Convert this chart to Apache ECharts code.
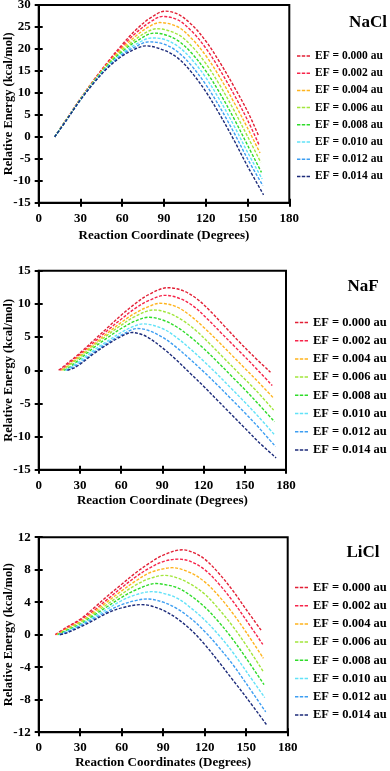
<!DOCTYPE html>
<html>
<head>
<meta charset="utf-8">
<script src="https://cdn.jsdelivr.net/npm/echarts@6/dist/echarts.min.js"></script>
<style>
html, body { margin: 0; padding: 0; background: #fff; }
#chart { width: 390px; height: 771px; }
</style>
</head>
<body>
<div id="chart"></div>
<script>
// legend names / colours (0.000 au -> 0.014 au)
var efNames = ['EF = 0.000 au', 'EF = 0.002 au', 'EF = 0.004 au', 'EF = 0.006 au',
	'EF = 0.008 au', 'EF = 0.010 au', 'EF = 0.012 au', 'EF = 0.014 au']
var efColors = ['#E21F35', '#F7254A', '#FFB41E', '#A2E63C', '#2FDC2A', '#62E2F8', '#3D9EF2', '#1C2B7A']

// axis ranges [min, max, step]
var xRange = [0, 180, 30]
var naclRange = [-15, 30, 5]
var nafRange = [-15, 15, 5]
var liclRange = [-12, 12, 4]

// NaCl: [degrees, kcal/mol]
var naclCurves = [
	[[11.5,0],[20,4.0],[30,8.7],[40,13.1],[50,17.2],[60,21.0],[70,24.4],[80,27.0],[91,28.6],[100,27.9],[110,25.5],[120,21.8],[130,17.0],[140,11.6],[150,5.8],[158,0.2]],
	[[11.5,0],[20,4.0],[30,8.7],[40,13.0],[50,17.0],[60,20.6],[70,23.7],[80,26.1],[89,27.4],[100,26.6],[110,24.0],[120,20.2],[130,15.3],[140,9.8],[150,3.8],[158.5,-2.0]],
	[[11.5,0],[20,4.0],[30,8.6],[40,12.9],[50,16.8],[60,20.2],[70,23.0],[80,25.2],[87,26.0],[100,25.0],[110,22.3],[120,18.5],[130,13.6],[140,8.0],[150,2.0],[159,-3.7]],
	[[11.5,0],[20,3.9],[30,8.6],[40,12.8],[50,16.6],[60,19.8],[70,22.3],[78,23.9],[85,24.6],[100,23.3],[110,20.6],[120,16.7],[130,11.8],[140,6.2],[150,0.1],[159.5,-5.8]],
	[[11.5,0],[20,3.9],[30,8.5],[40,12.7],[50,16.4],[60,19.4],[70,21.7],[83,23.6],[90,23.3],[100,21.9],[110,19.0],[120,15.0],[130,10.0],[140,4.3],[150,-1.9],[160,-8.1]],
	[[11.5,0],[20,3.9],[30,8.5],[40,12.6],[50,16.2],[60,19.0],[70,21.1],[81,22.5],[90,22.2],[100,20.6],[110,17.6],[120,13.5],[130,8.4],[140,2.7],[150,-3.5],[160.5,-9.6]],
	[[11.5,0],[20,3.8],[30,8.4],[40,12.5],[50,16.0],[60,18.7],[70,20.6],[79,21.6],[90,21.1],[100,19.3],[110,16.1],[120,11.9],[130,6.8],[140,1.1],[150,-5.0],[161,-11.1]],
	[[11.5,0],[20,3.8],[30,8.4],[40,12.4],[50,15.8],[60,18.4],[70,20.1],[77,20.7],[90,19.7],[100,17.9],[110,14.6],[120,10.3],[130,5.1],[140,-0.6],[150,-6.7],[161.5,-13.2]]
]

// NaF
var nafCurves = [
	[[14.5,0],[20,0.9],[30,2.6],[40,4.5],[50,6.4],[60,8.3],[70,10.0],[80,11.4],[94,12.45],[105,12.0],[115,10.8],[125,8.9],[135,6.7],[145,4.5],[155,2.4],[168.7,-0.3]],
	[[15.5,0],[20,0.7],[30,2.4],[40,4.2],[50,6.0],[60,7.7],[70,9.3],[80,10.5],[92,11.3],[103,10.8],[113,9.6],[123,7.7],[133,5.6],[143,3.5],[155,1.0],[170,-2.3]],
	[[16.5,0],[20,0.5],[30,2.2],[40,3.9],[50,5.6],[60,7.2],[70,8.6],[80,9.6],[88,10.1],[100,9.6],[110,8.3],[120,6.5],[130,4.5],[140,2.4],[150,0.3],[160,-1.8],[171,-4.2]],
	[[17.5,0],[20,0.4],[30,2.0],[40,3.7],[50,5.3],[60,6.8],[70,8.1],[84,9.1],[95,8.6],[105,7.5],[115,5.9],[125,3.9],[135,1.8],[145,-0.3],[158,-3.0],[171,-6.0]],
	[[18.5,0],[22,0.4],[30,1.7],[40,3.4],[50,4.9],[60,6.3],[70,7.4],[80,8.0],[90,7.6],[100,6.6],[110,5.1],[120,3.3],[130,1.3],[140,-0.8],[150,-2.9],[160,-5.1],[171.6,-7.75]],
	[[19.5,0],[23,0.4],[30,1.4],[40,3.0],[50,4.4],[60,5.7],[70,6.7],[76,7.0],[90,6.3],[100,5.0],[110,3.3],[120,1.4],[130,-0.6],[140,-2.7],[150,-4.8],[160,-7.0],[172,-9.8]],
	[[20.3,0],[24,0.4],[30,1.1],[40,2.7],[50,4.1],[60,5.3],[72,6.3],[80,6.0],[90,5.0],[100,3.5],[110,1.7],[120,-0.2],[130,-2.2],[140,-4.3],[150,-6.4],[160,-8.6],[172.4,-11.5]],
	[[21,0],[25,0.3],[30,0.9],[40,2.5],[50,3.9],[60,5.1],[68,5.7],[75,5.4],[80,4.9],[90,3.4],[100,1.6],[110,-0.4],[120,-2.4],[130,-4.5],[140,-6.6],[150,-8.7],[160,-10.8],[172.8,-13.2]]
]

// LiCl
var liclCurves = [
	[[12,0],[20,0.9],[30,1.9],[40,3.3],[50,4.8],[60,6.2],[70,7.6],[80,8.8],[90,9.8],[104,10.45],[112,10.1],[120,9.3],[130,7.6],[140,5.5],[150,3.1],[161.2,0.45]],
	[[12.5,0],[20,0.8],[30,1.8],[40,3.0],[50,4.4],[60,5.8],[70,7.1],[80,8.2],[90,9.0],[101,9.3],[110,9.0],[120,8.0],[130,6.3],[140,4.2],[150,1.8],[162,-1.2]],
	[[13,0],[20,0.7],[30,1.6],[40,2.8],[50,4.1],[60,5.4],[70,6.6],[80,7.6],[90,8.1],[96.5,8.25],[110,7.6],[120,6.5],[130,4.8],[140,2.7],[150,0.3],[162.4,-2.9]],
	[[13.5,0],[20,0.6],[30,1.5],[40,2.6],[50,3.8],[60,5.0],[70,6.1],[80,6.9],[91,7.3],[100,7.0],[110,6.2],[120,5.0],[130,3.2],[140,1.1],[150,-1.3],[162.6,-4.6]],
	[[14,0],[20,0.5],[30,1.3],[40,2.4],[50,3.5],[60,4.6],[70,5.5],[85,6.3],[90,6.2],[100,5.8],[110,4.8],[120,3.4],[130,1.6],[140,-0.5],[150,-2.9],[162.9,-6.15]],
	[[14.5,0],[20,0.4],[30,1.2],[40,2.2],[50,3.2],[60,4.2],[70,4.9],[81.5,5.3],[90,5.1],[100,4.5],[110,3.3],[120,1.8],[130,0.0],[140,-2.1],[150,-4.5],[163.4,-7.75]],
	[[15,0],[20,0.3],[30,1.1],[40,2.0],[50,2.9],[60,3.7],[70,4.2],[78,4.4],[90,4.0],[100,3.2],[110,2.0],[120,0.4],[130,-1.5],[140,-3.6],[150,-6.0],[164.1,-9.5]],
	[[15.5,0],[20,0.2],[30,0.95],[40,1.8],[50,2.7],[60,3.3],[74,3.7],[80,3.6],[90,3.0],[100,2.0],[110,0.6],[120,-1.2],[130,-3.3],[140,-5.5],[150,-7.7],[165,-11.15]]
]

var font = 'Liberation Serif'

// three short dashes for the legend swatch
var dashIcon = 'path://M0,0h3.4v1.5h-3.4zM4.8,0h3.4v1.5h-3.4zM9.6,0h3.4v1.5h-3.4z'

// panel layout
var panels = [
	{ title: 'NaCl', curves: naclCurves, y: naclRange, xName: 'Reaction Coordinate (Degrees)',
		left: 38.7, top: 5, width: 250.6, height: 197.7, titleX: 363, titleY: 9, legendLeft: 297, legendTop: 50, legendFont: 11.5, nameGap: 26 },
	{ title: 'NaF', curves: nafCurves, y: nafRange, xName: 'Reaction Coordinate (Degrees)',
		left: 38.7, top: 270.8, width: 247.3, height: 199, titleX: 358, titleY: 273, legendLeft: 295, legendTop: 316, legendFont: 12.5, nameGap: 24 },
	{ title: 'LiCl', curves: liclCurves, y: liclRange, xName: 'Reaction Coordinates (Degrees)',
		left: 38.7, top: 537.2, width: 249, height: 195, titleX: 358, titleY: 539, legendLeft: 295, legendTop: 581, legendFont: 12.5, nameGap: 24 }
]

var labelStyle = { color: '#000', fontFamily: font, fontWeight: 'bold', fontSize: 13 }

var option = {
	animation: false,
	backgroundColor: '#fff',
	title: [], grid: [], xAxis: [], yAxis: [], legend: [], series: []
}

panels.forEach(function(p, g) {
	option.grid.push({
		left: p.left, top: p.top, width: p.width, height: p.height,
		outerBoundsMode: 'none', containLabel: false,
		show: true, borderColor: '#000', borderWidth: 2, backgroundColor: 'transparent'
	})

	option.title.push({
		text: p.title, left: p.titleX, top: p.titleY, textAlign: 'center',
		textStyle: { fontFamily: font, fontWeight: 'bold', fontSize: 17, color: '#000' }
	})

	// main x axis (outer ticks, labels) + twin with inner ticks
	option.xAxis.push({
		type: 'value', gridIndex: g, min: xRange[0], max: xRange[1], interval: xRange[2],
		name: p.xName, nameLocation: 'middle', nameGap: p.nameGap,
		nameTextStyle: { color: '#000', fontFamily: font, fontWeight: 'bold', fontSize: 13 },
		axisLine: { onZero: false, lineStyle: { color: '#000', width: 2 } },
		axisTick: { length: 4, lineStyle: { color: '#000', width: 2 } },
		axisLabel: Object.assign({ margin: 9 }, labelStyle),
		splitLine: { show: false }
	}, {
		type: 'value', gridIndex: g, min: xRange[0], max: xRange[1], interval: xRange[2], position: 'bottom',
		axisLine: { show: false, onZero: false },
		axisTick: { inside: true, length: 4, lineStyle: { color: '#000', width: 2 } },
		axisLabel: { show: false }, splitLine: { show: false }
	})

	option.yAxis.push({
		type: 'value', gridIndex: g, min: p.y[0], max: p.y[1], interval: p.y[2],
		name: 'Relative Energy (kcal/mol)', nameLocation: 'middle', nameGap: 23, nameMoveOverlap: false,
		nameTextStyle: { color: '#000', fontFamily: font, fontWeight: 'bold', fontSize: 12.5 },
		axisLine: { show: true, onZero: false, lineStyle: { color: '#000', width: 2 } },
		axisTick: { show: true, length: 4, lineStyle: { color: '#000', width: 2 } },
		axisLabel: Object.assign({ margin: 8 }, labelStyle),
		splitLine: { show: false }
	}, {
		type: 'value', gridIndex: g, min: p.y[0], max: p.y[1], interval: p.y[2], position: 'left',
		axisLine: { show: false, onZero: false },
		axisTick: { show: true, inside: true, length: 4, lineStyle: { color: '#000', width: 2 } },
		axisLabel: { show: false }, splitLine: { show: false }
	})

	option.legend.push({
		data: efNames, orient: 'vertical', left: p.legendLeft, top: p.legendTop, padding: 0,
		icon: dashIcon, itemWidth: 13, itemHeight: 1.5, itemGap: 5.2,
		selectedMode: false,
		textStyle: { color: '#000', fontFamily: font, fontWeight: 'bold', fontSize: p.legendFont, lineHeight: 12 }
	})

	p.curves.forEach(function(d, i) {
		option.series.push({
			name: efNames[i], type: 'line', xAxisIndex: 2 * g, yAxisIndex: 2 * g,
			data: d, smooth: 0.35, symbol: 'none', showSymbol: false,
			lineStyle: { color: efColors[i], width: 1.4, type: [3, 1.6] },
			itemStyle: { color: efColors[i] }
		})
	})
})

var chart = echarts.init(document.getElementById('chart'), null, { renderer: 'canvas' })
chart.setOption(option)
</script>
</body>
</html>
